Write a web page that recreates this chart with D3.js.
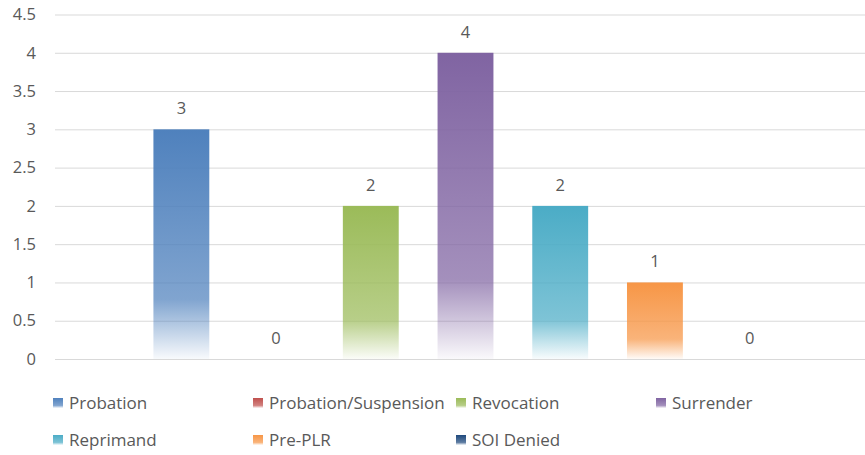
<!DOCTYPE html>
<html>
  <head>
    <meta charset="utf-8">
    <script src="https://d3js.org/d3.v7.min.js"></script>
    <style>
    body { margin: 0; background: #fff; }
    text { font-family: "Open Sans", "Noto Sans", sans-serif; fill: #595959; }
    .grid line { stroke: #d9d9d9; }
    .grid path { display: none; }
    </style>
  </head>
  <body>
    <script>
    var categories = ["Probation", "Probation/Suspension", "Revocation", "Surrender", "Reprimand", "Pre-PLR", "SOI Denied"];
    var values = [3, 0, 2, 4, 2, 1, 0];
    var colors = ["#4f81bd", "#c0504d", "#9bbb59", "#8064a2", "#4bacc6", "#f79646", "#1f497d"];
    var yTicks = [0, 0.5, 1, 1.5, 2, 2.5, 3, 3.5, 4, 4.5];

    var width = 865, height = 455;

    var svg = d3.select("body").append("svg")
        .attr("width", width)
        .attr("height", height);

    var x = d3.scaleBand().domain(categories).range([134, 797]).paddingInner(0.41).paddingOuter(0.205);
    var y = d3.scaleLinear().domain([0, 4.5]).range([359, 14.5]);

    var defs = svg.append("defs");
    categories.forEach(function(c, i) {
      var g = defs.append("linearGradient")
          .attr("id", "grad" + i)
          .attr("x1", 0).attr("y1", 0).attr("x2", 0).attr("y2", 1);
      g.append("stop").attr("offset", "0%").attr("stop-color", colors[i]).attr("stop-opacity", 1);
      g.append("stop").attr("offset", "74%").attr("stop-color", colors[i]).attr("stop-opacity", 0.72);
      g.append("stop").attr("offset", "100%").attr("stop-color", colors[i]).attr("stop-opacity", 0.04);
    });

    // gridlines
    svg.append("g")
        .attr("class", "grid")
        .attr("transform", "translate(55,0)")
        .call(d3.axisLeft(y).tickValues(yTicks).tickSize(-(width - 55)).tickFormat(""));

    // y labels
    svg.selectAll(".ylab")
        .data(yTicks)
        .enter().append("text")
        .attr("class", "ylab")
        .attr("x", 36)
        .attr("y", function(d) { return y(d); })
        .attr("dy", "0.35em")
        .attr("text-anchor", "end")
        .style("font-size", "16.5px")
        .text(function(d) { return d; });

    // bars
    svg.selectAll(".bar")
        .data(values)
        .enter().append("rect")
        .attr("class", "bar")
        .attr("x", function(d, i) { return x(categories[i]); })
        .attr("y", function(d) { return y(d); })
        .attr("width", x.bandwidth())
        .attr("height", function(d) { return y(0) - y(d); })
        .style("fill", function(d, i) { return "url(#grad" + i + ")"; });

    // value labels
    svg.selectAll(".val")
        .data(values)
        .enter().append("text")
        .attr("class", "val")
        .attr("x", function(d, i) { return x(categories[i]) + x.bandwidth() / 2; })
        .attr("y", function(d) { return y(d) - 15; })
        .attr("text-anchor", "middle")
        .style("font-size", "16.5px")
        .text(function(d) { return d; });

    // legend
    var legX = [53, 253, 456, 656];
    var legY = [403, 440];
    var legend = svg.selectAll(".leg")
        .data(categories)
        .enter().append("g")
        .attr("class", "leg")
        .attr("transform", function(d, i) {
          return "translate(" + legX[i % 4] + "," + legY[Math.floor(i / 4)] + ")";
        });
    legend.append("rect")
        .attr("x", 0).attr("y", -5)
        .attr("width", 10).attr("height", 10)
        .style("fill", function(d, i) { return "url(#grad" + i + ")"; });
    legend.append("text")
        .attr("x", 16)
        .attr("dy", "0.35em")
        .style("font-size", "17px")
        .text(function(d) { return d; });
    </script>
  </body>
</html>
